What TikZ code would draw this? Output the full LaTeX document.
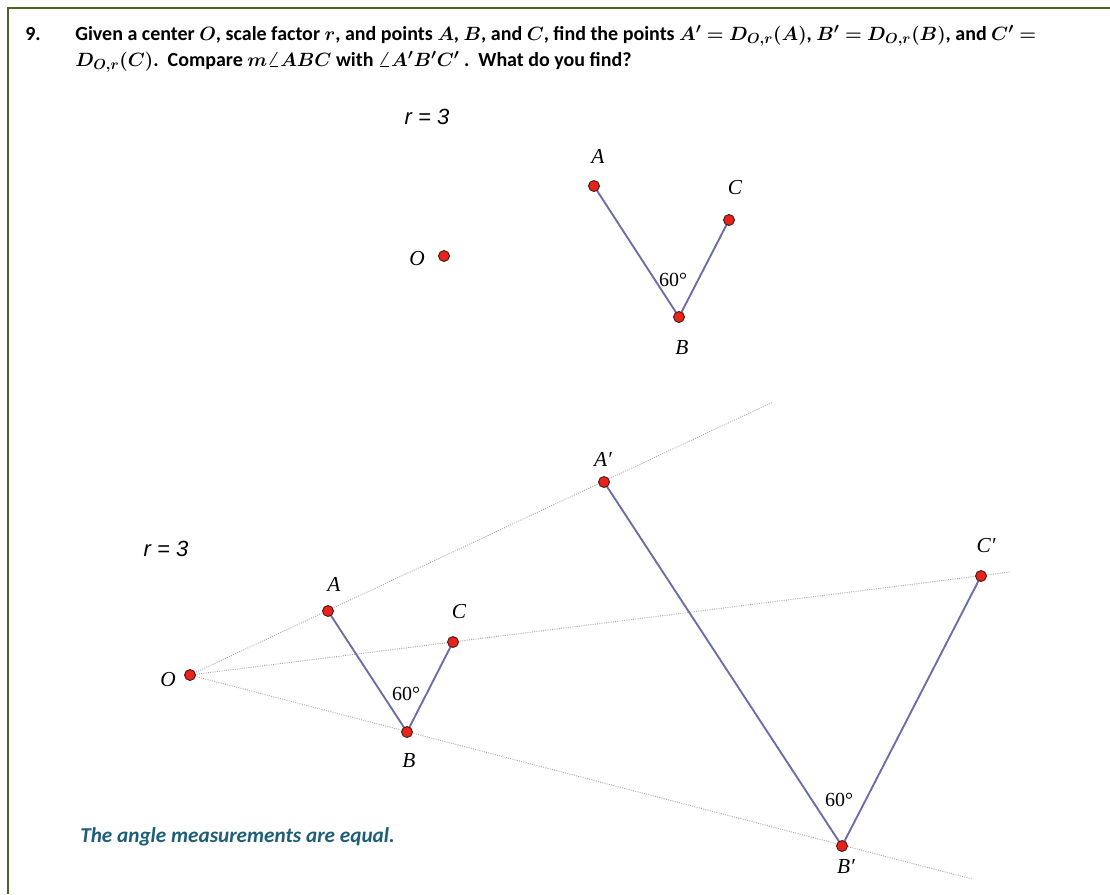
\documentclass[tikz,border=0pt]{standalone}
\usepackage{fontspec}
\usepackage{bm}
\setmainfont{Carlito}
\newfontfamily\tnr{Liberation Serif}
\newfontfamily\arl{Liberation Sans}
\usetikzlibrary{backgrounds}
\definecolor{frame}{HTML}{4F6228}
\definecolor{ptred}{HTML}{E8231C}
\definecolor{ptedge}{HTML}{4A1A14}
\definecolor{segc}{HTML}{6C6CA8}
\definecolor{rayc}{HTML}{A8A8A8}
\definecolor{ans}{HTML}{1D5E78}
\newcommand\bmath[1]{$\bm{#1}$}
\begin{document}
\begin{tikzpicture}[x=0.75pt,y=-0.75pt,
  pt/.style={circle,draw=ptedge,fill=ptred,line width=0.7pt,inner sep=0pt,minimum size=8.2pt},
  seg/.style={draw=segc,line width=1.4pt},
  ray/.style={draw=rayc,line width=0.7pt,densely dotted},
  lbl/.style={font=\fontsize{16}{18}\selectfont\tnr\itshape,inner sep=0pt},
  ang/.style={font=\fontsize{15}{17}\selectfont\tnr,inner sep=0pt},
  rlab/.style={font=\fontsize{16.5}{18}\selectfont\arl\itshape,inner sep=0pt},
  head/.style={font=\fontsize{15}{18}\selectfont\bfseries,inner sep=0pt,anchor=base west}]
\useasboundingbox (0,0) rectangle (1110,894);
% frame
\draw[frame,line width=2.2pt] (8,894) -- (8,8) -- (1110,8);
% header
\node[head] (num) at (25,40) {9.};
\node[head] (h1) at (75,40) {Given a center \bmath{O}, scale factor \bmath{r}, and points \bmath{A}, \bmath{B}, and \bmath{C}, find the points \bmath{A' = D_{O,r}(A)}, \bmath{B' = D_{O,r}(B)}, and \bmath{C' =}};
\node[head] (h2) at (75,66) {\bmath{D_{O,r}(C)}.\ \ Compare \bmath{m\angle ABC} with \bmath{\angle A'B'C'} .\ \ What do you find?};
% top figure
\node[rlab] (r1) at (427,117) {r = 3};
\node[pt] (O1) at (444,256) {};
\node[pt] (A1) at (594,186) {};
\node[pt] (C1) at (729,220) {};
\node[pt] (B1) at (679,317) {};
\node[lbl] (lO1) at (417,259) {O};
\node[lbl] (lA1) at (598,156) {A};
\node[lbl] (lC1) at (735,188) {C};
\node[lbl] (lB1) at (682,348) {B};
\node[ang] (g1) at (673,280) {60°};
% bottom figure
\node[rlab] (r2) at (166,549) {r = 3};
\node[pt] (O2) at (190,675) {};
\node[pt] (A2) at (328,611) {};
\node[pt] (C2) at (453,642) {};
\node[pt] (B2) at (407,732) {};
\node[pt] (A3) at (604,482) {};
\node[pt] (C3) at (981,576) {};
\node[pt] (B3) at (842,846) {};
\coordinate (rA) at (773,402);
\coordinate (rC) at (1010,572);
\coordinate (rB) at (972,879);
\node[lbl] (lO2) at (168,680) {O};
\node[lbl] (lA2) at (334,584) {A};
\node[lbl] (lC2) at (459,612) {C};
\node[lbl] (lB2) at (409,761) {B};
\node[lbl] (lA3) at (603,459) {A′};
\node[lbl] (lC3) at (986,546) {C′};
\node[lbl] (lB3) at (846,867) {B′};
\node[ang] (g2) at (406,694) {60°};
\node[ang] (g3) at (839,800) {60°};
\begin{pgfonlayer}{background}
\draw[ray] (O2.center) -- (rA);
\draw[ray] (O2.center) -- (rC);
\draw[ray] (O2.center) -- (rB);
\draw[seg] (A1.center) -- (B1.center) -- (C1.center);
\draw[seg] (A2.center) -- (B2.center) -- (C2.center);
\draw[seg] (A3.center) -- (B3.center) -- (C3.center);
\end{pgfonlayer}
% answer
\node[font=\fontsize{15.9}{18}\selectfont\bfseries\itshape,text=ans,inner sep=0pt,anchor=base west] (answer) at (80,842) {The angle measurements are equal.};
\end{tikzpicture}
\end{document}
